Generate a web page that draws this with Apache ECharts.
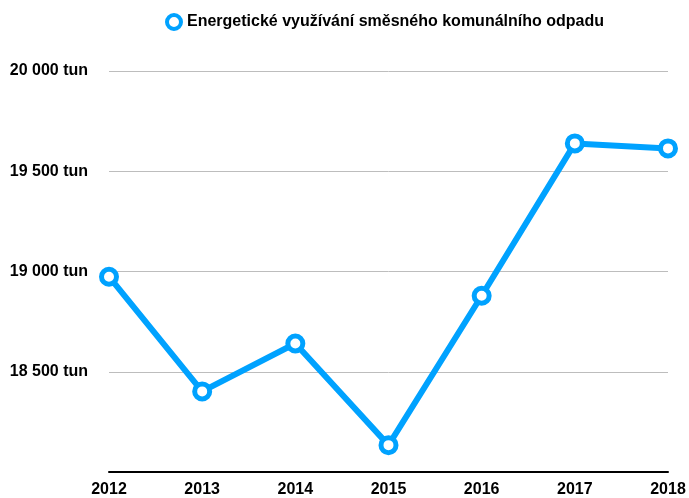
<!DOCTYPE html>
<html><head><meta charset="utf-8">
<script src="https://cdn.jsdelivr.net/npm/echarts@6/dist/echarts.min.js"></script>
<style>html,body{margin:0;padding:0;background:#fff}#c{width:689px;height:498px}</style>
</head><body><div id="c"></div>
<script>
const years = ['2012','2013','2014','2015','2016','2017','2018'];
const seriesName = 'Energetické využívání směsného komunálního odpadu';
const values = [18974, 18402, 18641, 18134, 18879, 19639, 19614];
const yTicks = [18000, 18500, 19000, 19500, 20000];

const chart = echarts.init(document.getElementById('c'));
const font = '"Liberation Sans", Helvetica, Arial, sans-serif';
chart.setOption({
  animation: false,
  textStyle: {fontFamily: font},
  legend: {
    top: 8, left: 160,
    itemWidth: 16, itemHeight: 14, itemGap: 8,
    itemStyle: {borderWidth: 4},
    textStyle: {fontFamily: font, fontWeight: 'bold', fontSize: 16, color: '#000'},
    data: [{name: seriesName, icon: 'circle'}]
  },
  grid: {left: 109, right: 21, top: 71, bottom: 24, containLabel: false},
  xAxis: {
    type: 'category', data: years, boundaryGap: false,
    axisLine: {lineStyle: {color: '#000', width: 2}},
    axisTick: {show: false},
    axisLabel: {fontFamily: font, fontWeight: 'bold', fontSize: 16, color: '#000', margin: 10}
  },
  yAxis: {
    type: 'value', min: yTicks[0], max: yTicks[yTicks.length-1], interval: 500,
    axisLine: {show: false}, axisTick: {show: false},
    splitLine: {lineStyle: {color: '#bdbdbd', width: 1}},
    axisLabel: {fontFamily: font, fontWeight: 'bold', fontSize: 16, color: '#000', margin: 21,
      formatter: v => v === yTicks[0] ? '' : (String(Math.floor(v/1000)) + ' ' + String(v%1000).padStart(3,'0') + ' tun')}
  },
  series: [{
    name: seriesName, type: 'line', data: values,
    symbol: 'circle', symbolSize: 15,
    lineStyle: {color: '#00a2ff', width: 6},
    itemStyle: {color: '#fff', borderColor: '#00a2ff', borderWidth: 5},
    z: 3
  }]
});
</script></body></html>
